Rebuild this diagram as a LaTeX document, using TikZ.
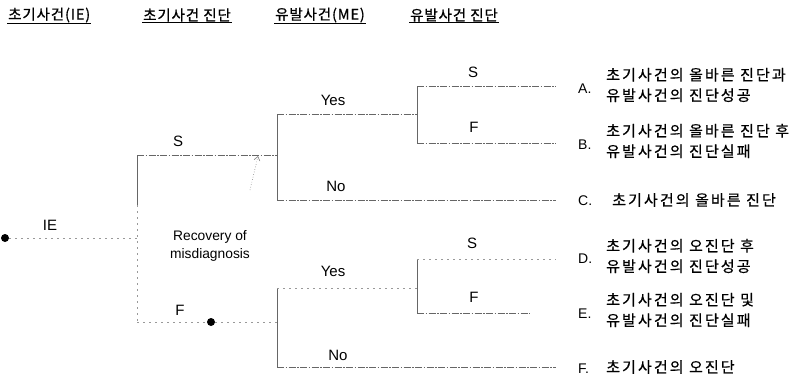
\documentclass[tikz,border=0pt]{standalone}
\usepackage{fontspec}
\setmainfont{Liberation Sans}
\newfontfamily\kr[LetterSpace=14,FakeBold=0.6]{Noto Sans CJK KR}
\newfontfamily\krh[LetterSpace=6,FakeBold=0.8]{Noto Sans CJK KR}
\usetikzlibrary{arrows.meta}
\begin{document}
\begin{tikzpicture}[x=1pt,y=-1pt,
  br/.style={draw=black!60, line width=0.7pt, dash pattern=on 7pt off 1.5pt on 1.5pt off 1.5pt},
  vr/.style={draw=black!60, line width=0.7pt},
  faint/.style={draw=black!40, line width=0.6pt, dash pattern=on 2pt off 4pt},
  lab/.style={font=\fontsize{15}{17}\selectfont, inner sep=0pt},
  hdr/.style={font=\krh\fontsize{14.5}{16}\selectfont, inner sep=1pt, anchor=west},
  res/.style={font=\kr\fontsize{15}{20.5}\selectfont, align=left, anchor=west, inner sep=0pt},
  let/.style={font=\fontsize{14}{16}\selectfont, anchor=west, inner sep=0pt},
  dot/.style={circle, fill=black, inner sep=0pt, minimum size=8pt}]
\useasboundingbox (0,0) rectangle (794,378);

% headers
\node[hdr] (h1) at (7,15) {초기사건(IE)};
\node[hdr] (h2) at (142,15) {초기사건 진단};
\node[hdr] (h3) at (274,15) {유발사건(ME)};
\node[hdr] (h4) at (409,15) {유발사건 진단};
\foreach \h in {h1,h2,h3,h4} \draw[line width=0.9pt] (\h.south west) -- (\h.south east);

% junction coordinates
\node[dot] (ie) at (5,238) {};
\coordinate (ieend) at (137,238);
\coordinate (a1) at (137,155);
\coordinate (a2) at (137,322);
\coordinate (b1) at (277,155);
\coordinate (b2) at (277,322);
\node[dot] (fdot) at (211,322) {};
% upper ME
\coordinate (u1) at (277,114);
\coordinate (u2) at (277,200);
\coordinate (u3) at (417,114);
\coordinate (u4) at (417,86);
\coordinate (u5) at (417,143);
\coordinate (eA) at (556,86);
\coordinate (eB) at (556,143);
\coordinate (eC) at (556,200);
% lower ME
\coordinate (l1) at (277,288);
\coordinate (l2) at (277,367);
\coordinate (l3) at (417,288);
\coordinate (l4) at (417,259);
\coordinate (l5) at (417,313);
\coordinate (eD) at (556,259);
\coordinate (eE) at (530,313);
\coordinate (eF) at (556,367);

% branches
\draw[faint] (ie) -- (ieend);
\draw[vr] (a1) -- (137,205);
\draw[faint] (137,205) -- (a2);
\draw[br] (a1) -- (b1);
\draw[faint] (a2) -- (fdot);
\draw[faint] (fdot) -- (b2);
\draw[vr] (u1) -- (u2);
\draw[br] (u1) -- (u3);
\draw[vr] (u4) -- (u5);
\draw[br] (u4) -- (eA);
\draw[br] (u5) -- (eB);
\draw[br] (u2) -- (eC);
\draw[vr] (l1) -- (l2);
\draw[faint] (l1) -- (l3);
\draw[vr] (l4) -- (l5);
\draw[faint] (l4) -- (eD);
\draw[br] (l5) -- (eE);
\draw[br] (l2) -- (eF);

% recovery arrow
\coordinate (rs) at (250,190);
\coordinate (re) at (258,156);
\draw[black!50, line width=0.6pt, dotted, -{Straight Barb[length=4pt,width=6pt]}] (rs) -- (re);

% labels
\node[lab] (lS1) at (178,141) {S};
\node[lab] (lF1) at (180,310) {F};
\node[lab] (lIE) at (50,225) {IE};
\node[font=\fontsize{13.8}{18}\selectfont, align=center, inner sep=0pt] (lrec) at (210,246) {Recovery of\\misdiagnosis};
\node[lab] (lY1) at (333,100) {Yes};
\node[lab] (lN1) at (336,186) {No};
\node[lab] (lS2) at (473,72) {S};
\node[lab] (lF2) at (474,127) {F};
\node[lab] (lS3) at (472,243) {S};
\node[lab] (lF3) at (474,297) {F};
\node[lab] (lY2) at (333,271) {Yes};
\node[lab] (lN2) at (338,355) {No};

% outcomes
\node[let] (kA) at (578,89) {A.};
\node[res] (tA) at (606,85) {초기사건의 올바른 진단과\\유발사건의 진단성공};
\node[let] (kB) at (578,145) {B.};
\node[res] (tB) at (606,141) {초기사건의 올바른 진단 후\\유발사건의 진단실패};
\node[let] (kC) at (578,201) {C.};
\node[res] (tC) at (612,200) {초기사건의 올바른 진단};
\node[let] (kD) at (578,259) {D.};
\node[res] (tD) at (606,256) {초기사건의 오진단 후\\유발사건의 진단성공};
\node[let] (kE) at (578,314) {E.};
\node[res] (tE) at (606,310) {초기사건의 오진단 및\\유발사건의 진단실패};
\node[let] (kF) at (578,369) {F.};
\node[res] (tF) at (606,367) {초기사건의 오진단};
\end{tikzpicture}
\end{document}
